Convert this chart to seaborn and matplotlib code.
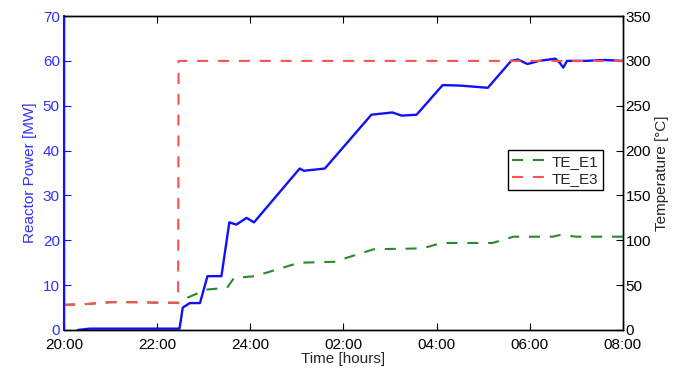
import seaborn as sns
import pandas as pd
import matplotlib
matplotlib.use("Agg")
import matplotlib.pyplot as plt

sns.set_style("white")
plt.rcParams['font.family'] = ['Liberation Sans', 'DejaVu Sans']
plt.rcParams['font.size'] = 11

# reactor power (left axis)
power_t = [20.3, 20.55, 22.48, 22.55, 22.7, 22.92, 23.08, 23.38, 23.55, 23.7, 23.92, 24.08,
           25.06, 25.15, 25.6, 26.6, 27.05, 27.25, 27.57, 28.13, 28.5, 29.1, 29.6, 29.75,
           29.95, 30.2, 30.55, 30.65, 30.72, 30.8, 31.2, 31.6, 32.0]
power_mw = [0, 0.3, 0.3, 5, 6, 6, 12, 12, 24, 23.5, 25, 24,
            36, 35.5, 36, 48, 48.5, 47.8, 48, 54.6, 54.5, 54, 60, 60.3,
            59.3, 60, 60.5, 59.5, 58.5, 60, 60, 60.2, 60]

# temperatures (right axis)
e1_t = [20.0, 20.5, 21.0, 21.5, 22.0, 22.5, 22.65, 23.05, 23.5, 23.65, 24.1, 25.05,
        25.8, 26.1, 26.65, 27.7, 28.1, 29.2, 29.65, 30.5, 30.65, 31.0, 32.0]
e1_c = [28, 29, 31, 31, 30.5, 30.5, 36, 45, 47, 58, 60, 75,
        76, 81, 90, 91, 97, 97, 104, 104, 106, 104, 104]
e3_t = [20.0, 20.5, 21.0, 21.5, 22.0, 22.45, 22.46, 32.0]
e3_c = [28, 29, 31, 31, 30.5, 30, 300, 300]

xtick_pos = [20, 22, 24, 26, 28, 30, 32]
xtick_lab = ['20:00', '22:00', '24:00', '02:00', '04:00', '06:00', '08:00']

power = pd.DataFrame({'t': power_t, 'p': power_mw})
te1 = pd.DataFrame({'t': e1_t, 'c': e1_c})
te3 = pd.DataFrame({'t': e3_t, 'c': e3_c})

fig = plt.figure(figsize=(6.83, 3.73), dpi=100)
ax = fig.add_axes([0.0937, 0.1153, 0.8183, 0.8417])
ax2 = ax.twinx()

dash = (0, (5.3, 4.7))
sns.lineplot(data=power, x='t', y='p', ax=ax, color='#1010ff', lw=1.7,
             estimator=None, sort=False)
sns.lineplot(data=te1, x='t', y='c', ax=ax2, color='#2a8a2a', lw=1.5, linestyle=dash,
             estimator=None, sort=False, label='TE_E1')
sns.lineplot(data=te3, x='t', y='c', ax=ax2, color='#ff5050', lw=1.5, linestyle=dash,
             estimator=None, sort=False, label='TE_E3')

ax.set_xlim(20, 32)
ax.set_ylim(0, 70)
ax2.set_ylim(0, 350)
ax.set_xticks(xtick_pos)
ax.set_xticklabels(xtick_lab)
ax.set_yticks(range(0, 71, 10))
ax2.set_yticks(range(0, 351, 50))

ax.set_xlabel('Time [hours]', labelpad=0)
ax.set_ylabel('Reactor Power [MW]', color='#3030ff', labelpad=4)
ax2.set_ylabel('Temperature [\u00b0C]', labelpad=3)

ax.tick_params(axis='x', direction='in', length=5, top=True, bottom=True, pad=6, colors='black')
ax.tick_params(axis='y', direction='in', length=5, colors='#1010ff', labelcolor='#3030ff', pad=3)
ax2.tick_params(axis='y', direction='in', length=5, colors='black', pad=2)

for a in (ax, ax2):
    for s in a.spines.values():
        s.set_color('black')
        s.set_linewidth(1.0)
ax.spines['left'].set_color('#1010ff')
ax2.spines['left'].set_color('#1010ff')
ax2.spines['left'].set_linewidth(1.5)

leg = ax2.legend(loc='upper left', bbox_to_anchor=(0.794, 0.573), fancybox=False,
                 framealpha=1, edgecolor='black', handlelength=2.3, handletextpad=0.3,
                 borderpad=0.3, labelspacing=0.2, borderaxespad=0)
leg.get_frame().set_linewidth(1.0)

fig.savefig('out.png', dpi=100)
